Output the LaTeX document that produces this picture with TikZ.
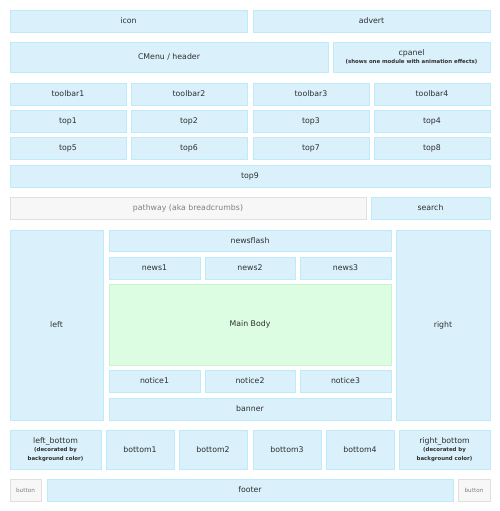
\documentclass[tikz,border=0pt]{standalone}
\usepackage{fontspec}
\setmainfont{DejaVu Sans}
\usepackage{tikz}
\usetikzlibrary{calc}
\definecolor{boxfill}{HTML}{DAF1FC}
\definecolor{boxline}{HTML}{BDEBFA}
\definecolor{pathfill}{HTML}{F7F7F7}
\definecolor{pathline}{HTML}{E0E0E0}
\definecolor{bodyfill}{HTML}{DDFDE2}
\definecolor{bodyline}{HTML}{C6F5CD}
\definecolor{labeltext}{HTML}{2E2E2E}
\newcommand\notefont{\fontsize{5.4}{6.8}\selectfont\bfseries}
\tikzset{blk/.style={draw=boxline,fill=boxfill,line width=0.8pt,anchor=north west,
    inner sep=0pt,outer sep=0pt,align=center,text=labeltext,font=\fontsize{7.8}{9.4}\selectfont}}
\tikzset{gry/.style={blk,draw=pathline,fill=pathfill,text=gray}}
\tikzset{sz/.style n args={2}{minimum width=#1,minimum height=#2}}

\begin{document}
\begin{tikzpicture}[x=1pt,y=-1pt]
        \useasboundingbox (0,0) rectangle (500,511);
        % header
        \node[blk,sz={237pt}{22pt}] (icon) at (10,10) {icon};
        \node[blk,sz={237pt}{22pt}] (advert) at (253,10) {advert};
        \node[blk,sz={318pt}{30pt}] (cmenu) at (10,42) {CMenu / header};
        \node[blk,sz={157pt}{30pt}] (cpanel) at (333,42)
          {cpanel\\[-1.5pt]\notefont (shows one module with animation effects)};
        % toolbars and top modules
        \foreach \n/\x in {1/10,2/131,3/253,4/374} {
          \node[blk,sz={116pt}{22pt}] (toolbar\n) at (\x,83) {toolbar\n};
        }
        \foreach \n/\x in {1/10,2/131,3/253,4/374} {
          \node[blk,sz={116pt}{22pt}] (top\n) at (\x,110) {top\n};
        }
        \foreach \n/\x in {5/10,6/131,7/253,8/374} {
          \node[blk,sz={116pt}{22pt}] (top\n) at (\x,137) {top\n};
        }
        \node[blk,sz={480pt}{22pt}] (top9) at (10,165) {top9};
        \node[gry,sz={356pt}{22pt}] (pathway) at (10,197) {pathway (aka breadcrumbs)};
        \node[blk,sz={119pt}{22pt}] (search) at (371,197) {search};
        % middle
        \node[blk,sz={93pt}{190pt}] (left) at (10,230) {left};
        \node[blk,sz={94pt}{190pt}] (right) at (396,230) {right};
        \node[blk,sz={282pt}{21pt}] (newsflash) at (109,230) {newsflash};
        \foreach \n/\x/\w in {1/109/91,2/205/90,3/300/91} {
          \node[blk,sz={\w pt}{22pt}] (news\n) at (\x,257) {news\n};
          \node[blk,sz={\w pt}{22pt}] (notice\n) at (\x,370) {notice\n};
        }
        \node[blk,draw=bodyline,fill=bodyfill,sz={282pt}{81pt}] (mainbody) at (109,284) {Main Body};
        \node[blk,sz={282pt}{22pt}] (banner) at (109,398) {banner};
        % bottom
        \node[blk,sz={91pt}{39pt}] (leftbottom) at (10,430)
          {left\_bottom\\[-1.5pt]\notefont (decorated by\\\notefont background color)};
        \foreach \n/\x in {1/106,2/179,3/253,4/326} {
          \node[blk,sz={68pt}{39pt}] (bottom\n) at (\x,430) {bottom\n};
        }
        \node[blk,sz={91pt}{39pt}] (rightbottom) at (399,430)
          {right\_bottom\\[-1.5pt]\notefont (decorated by\\\notefont background color)};
        \node[gry,sz={31pt}{22pt},font=\fontsize{5.7}{6}\selectfont] (buttonl) at (10,479) {button};
        \node[blk,sz={406pt}{22pt}] (footer) at (47,479) {footer};
        \node[gry,sz={32pt}{22pt},font=\fontsize{5.7}{6}\selectfont] (buttonr) at (458,479) {button};
      \end{tikzpicture}
\end{document}
